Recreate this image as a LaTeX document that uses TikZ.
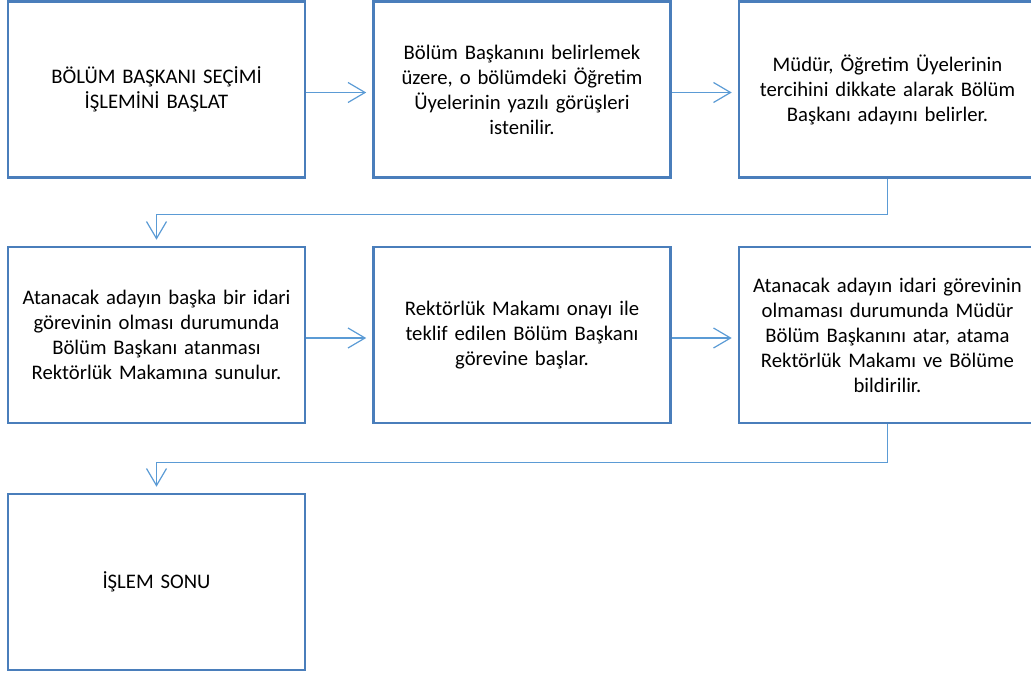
\documentclass[tikz,border=0pt]{standalone}
\usepackage{fontspec}
\setmainfont{Carlito}
\usetikzlibrary{arrows.meta,calc}
\definecolor{boxblue}{RGB}{74,126,187}
\definecolor{lineblue}{RGB}{91,155,213}
\tikzset{
  stepbox/.style={draw=boxblue, line width=2.6pt, fill=white, minimum width=297pt, minimum height=176pt,
    inner sep=0pt, align=center, text width=292pt,
    font=\fontsize{20.7pt}{25pt}\selectfont},
  conn/.style={draw=lineblue, line width=1.2pt, -{Straight Barb[length=17pt,width=20pt,line width=1.2pt]}, shorten >=6pt}
}
\begin{document}
\begin{tikzpicture}[x=1pt,y=-1pt]
\useasboundingbox (0,0) rectangle (1031,675);
\clip (0,0) rectangle (1031,675);
\node[stepbox] (b1) at (156.5,89.5) {BÖLÜM BAŞKANI SEÇİMİ\\İŞLEMİNİ BAŞLAT};
\node[stepbox] (b2) at (522,89.5) {Bölüm Başkanını belirlemek\\üzere, o bölümdeki Öğretim\\Üyelerinin yazılı görüşleri\\istenilir.};
\node[stepbox] (b3) at (887.5,89.5) {Müdür, Öğretim Üyelerinin\\tercihini dikkate alarak Bölüm\\Başkanı adayını belirler.};
\node[stepbox] (b4) at (156.5,335) {Atanacak adayın başka bir idari\\görevinin olması durumunda\\Bölüm Başkanı atanması\\Rektörlük Makamına sunulur.};
\node[stepbox] (b5) at (522,335) {Rektörlük Makamı onayı ile\\teklif edilen Bölüm Başkanı\\görevine başlar.};
\node[stepbox] (b6) at (887.5,335) {Atanacak adayın idari görevinin\\olmaması durumunda Müdür\\Bölüm Başkanını atar, atama\\Rektörlük Makamı ve Bölüme\\bildirilir.};
\node[stepbox] (b7) at (156.5,582) {İŞLEM SONU};
\draw[conn] ([yshift=-3pt]b1.east) -- ([yshift=-3pt]b2.west);
\draw[conn] ([yshift=-3pt]b2.east) -- ([yshift=-3pt]b3.west);
\draw[conn] (b3.south) -- ++(0,36) -| (b4.north);
\draw[conn] ([yshift=-3pt]b4.east) -- ([yshift=-3pt]b5.west);
\draw[conn] ([yshift=-3pt]b5.east) -- ([yshift=-3pt]b6.west);
\draw[conn] (b6.south) -- ++(0,38) -| (b7.north);
\end{tikzpicture}
\end{document}
